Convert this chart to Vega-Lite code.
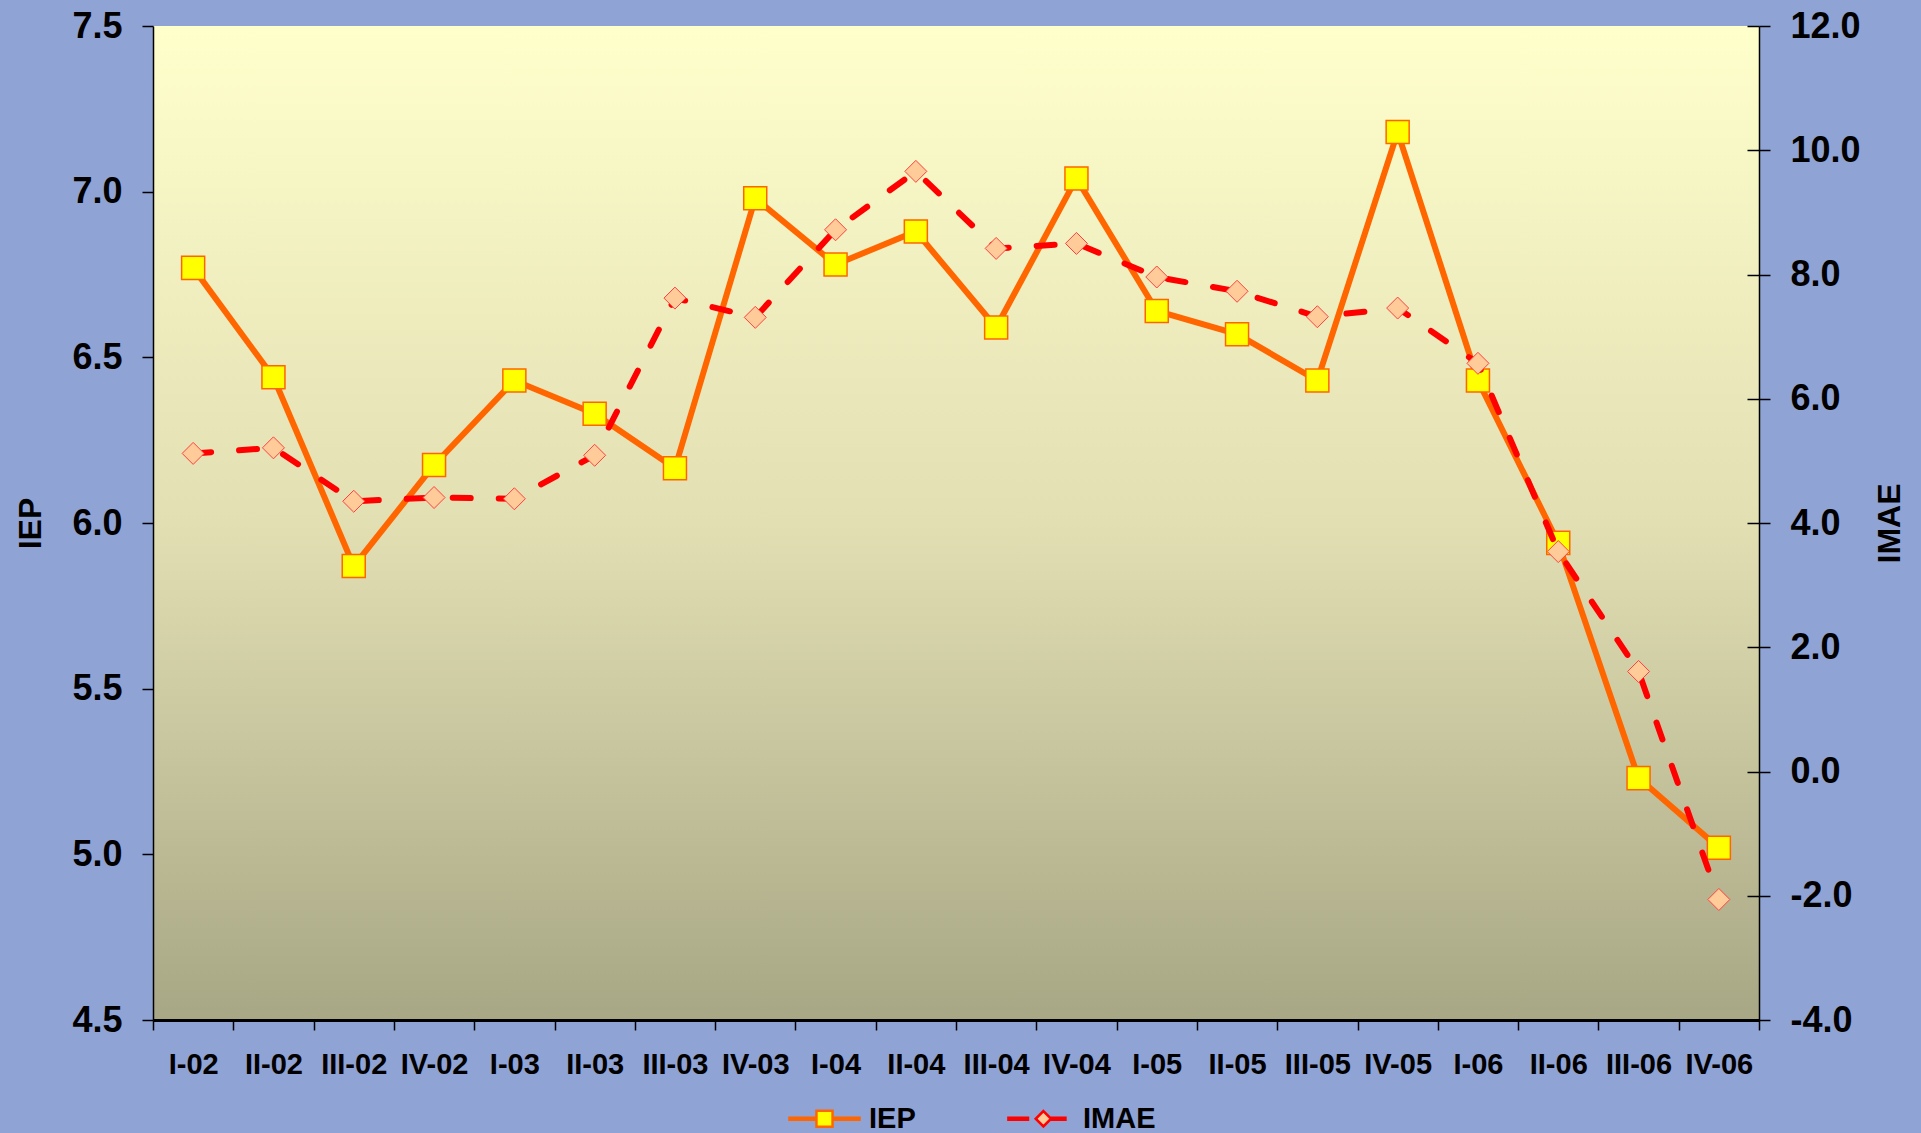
{
  "$schema": "https://vega.github.io/schema/vega-lite/v6.json",
  "width": 1606,
  "height": 994,
  "autosize": {"type": "none"},
  "padding": {"left": 153, "top": 26, "right": 162, "bottom": 113},
  "background": "#8FA3D5",
  "config": {
    "view": {
      "stroke": null,
      "fill": {"gradient": "linear", "x1": 0, "y1": 0, "x2": 0, "y2": 1,
        "stops": [{"offset": 0, "color": "#FFFFCC"}, {"offset": 0.5, "color": "#E2DFB3"}, {"offset": 1, "color": "#A8A785"}]}
    },
    "font": "Liberation Sans",
    "axis": {
      "labelFont": "Liberation Sans", "labelFontWeight": "bold", "labelColor": "#000000",
      "titleFont": "Liberation Sans", "titleFontWeight": "bold", "titleColor": "#000000",
      "domainColor": "#000000", "tickColor": "#000000", "grid": false
    }
  },
  "data": {
    "values": [
      {"period": "I-02", "IEP": 6.77, "IMAE": 5.12},
      {"period": "II-02", "IEP": 6.44, "IMAE": 5.21},
      {"period": "III-02", "IEP": 5.87, "IMAE": 4.35},
      {"period": "IV-02", "IEP": 6.175, "IMAE": 4.41},
      {"period": "I-03", "IEP": 6.43, "IMAE": 4.39},
      {"period": "II-03", "IEP": 6.33, "IMAE": 5.09},
      {"period": "III-03", "IEP": 6.165, "IMAE": 7.62},
      {"period": "IV-03", "IEP": 6.98, "IMAE": 7.31},
      {"period": "I-04", "IEP": 6.78, "IMAE": 8.72},
      {"period": "II-04", "IEP": 6.88, "IMAE": 9.66},
      {"period": "III-04", "IEP": 6.59, "IMAE": 8.42},
      {"period": "IV-04", "IEP": 7.04, "IMAE": 8.5},
      {"period": "I-05", "IEP": 6.64, "IMAE": 7.96},
      {"period": "II-05", "IEP": 6.57, "IMAE": 7.73},
      {"period": "III-05", "IEP": 6.43, "IMAE": 7.32},
      {"period": "IV-05", "IEP": 7.18, "IMAE": 7.46},
      {"period": "I-06", "IEP": 6.43, "IMAE": 6.57},
      {"period": "II-06", "IEP": 5.94, "IMAE": 3.54},
      {"period": "III-06", "IEP": 5.23, "IMAE": 1.61},
      {"period": "IV-06", "IEP": 5.02, "IMAE": -2.06}
    ]
  },
  "encoding": {
    "x": {
      "field": "period", "type": "ordinal", "sort": null,
      "scale": {"type": "band", "paddingInner": 0, "paddingOuter": 0},
      "axis": {
        "title": null, "labelFontSize": 29, "labelAngle": 0, "tickBand": "extent",
        "tickSize": 10, "tickWidth": 1.5, "domainWidth": 3, "labelPadding": 20, "labelOverlap": false
      }
    }
  },
  "layer": [
    {
      "mark": {"type": "line", "strokeWidth": 6},
      "encoding": {
        "y": {
          "field": "IEP", "type": "quantitative",
          "scale": {"domain": [4.5, 7.5], "nice": false, "zero": false},
          "axis": {
            "orient": "left", "title": "IEP", "values": [4.5, 5, 5.5, 6, 6.5, 7, 7.5], "format": ".1f",
            "labelFontSize": 36, "tickSize": 11, "tickWidth": 1.5, "domainWidth": 1.5, "labelPadding": 20,
            "titleFontSize": 32, "titlePadding": 24
          }
        },
        "color": {
          "datum": "IEP", "type": "nominal",
          "scale": {"domain": ["IEP", "IMAE"], "range": ["#FF6600", "#FF0000"]},
          "legend": {
            "orient": "none", "legendX": 635, "legendY": 1056, "direction": "horizontal", "title": null,
            "labelFontSize": 29, "labelFontWeight": "bold", "labelFont": "Liberation Sans", "labelColor": "#000000",
            "symbolSize": 4900, "labelOffset": 8, "columnPadding": 86, "padding": 0,
            "encode": {
              "symbols": {
                "update": {
                  "shape": {"signal": "datum.value === 'IEP' ? 'M-1,-0.03H-0.23V0.03H-1ZM0.23,-0.03H1V0.03H0.23ZM-0.23,-0.23H0.23V0.23H-0.23Z' : 'M-0.86,-0.03H-0.3V0.03H-0.86ZM0.38,-0.03H0.77V0.03H0.38ZM0.14,-0.22L0.36,0L0.14,0.22L-0.08,0Z'"},
                  "fill": {"signal": "datum.value === 'IEP' ? '#FFFF00' : '#FFCC99'"},
                  "stroke": {"signal": "datum.value === 'IEP' ? '#FF6600' : '#FF0000'"},
                  "strokeWidth": {"value": 2.5},
                  "strokeDash": {"value": []},
                  "size": {"value": 4900},
                  "opacity": {"value": 1},
                  "fillOpacity": {"value": 1},
                  "strokeOpacity": {"value": 1}
                }
              }
            }
          }
        }
      }
    },
    {
      "mark": {"type": "point", "shape": "square", "filled": true, "fill": "#FFFF00", "stroke": "#FF6600", "strokeWidth": 1.5, "size": 530, "opacity": 1},
      "encoding": {
        "y": {"field": "IEP", "type": "quantitative", "scale": {"domain": [4.5, 7.5], "nice": false, "zero": false}, "axis": null}
      }
    },
    {
      "mark": {"type": "line", "strokeWidth": 6, "strokeDash": [18, 28], "strokeCap": "round"},
      "encoding": {
        "y": {
          "field": "IMAE", "type": "quantitative",
          "scale": {"domain": [-4, 12], "nice": false, "zero": false},
          "axis": {
            "orient": "right", "title": "IMAE", "values": [-4, -2, 0, 2, 4, 6, 8, 10, 12],
            "labelExpr": "datum.value < 0 ? '-' + format(-datum.value, '.1f') : format(datum.value, '.1f')",
            "labelFontSize": 36, "tickSize": 11, "tickWidth": 1.5, "domainWidth": 1.5, "labelPadding": 20,
            "titleFontSize": 32, "titlePadding": 46, "titleAngle": 270
          }
        },
        "color": {"datum": "IMAE", "type": "nominal"}
      }
    },
    {
      "mark": {"type": "point", "shape": "diamond", "filled": true, "fill": "#FFCC99", "stroke": "#FF4040", "strokeWidth": 1, "size": 484, "opacity": 1},
      "encoding": {
        "y": {
          "field": "IMAE", "type": "quantitative",
          "scale": {"domain": [-4, 12], "nice": false, "zero": false},
          "axis": {"orient": "right", "offset": -12, "domain": false, "labels": false, "title": null, "tickSize": 12, "tickWidth": 1.5, "values": [-4, -2, 0, 2, 4, 6, 8, 10, 12]}
        }
      }
    }
  ],
  "resolve": {"scale": {"y": "independent"}}
}
